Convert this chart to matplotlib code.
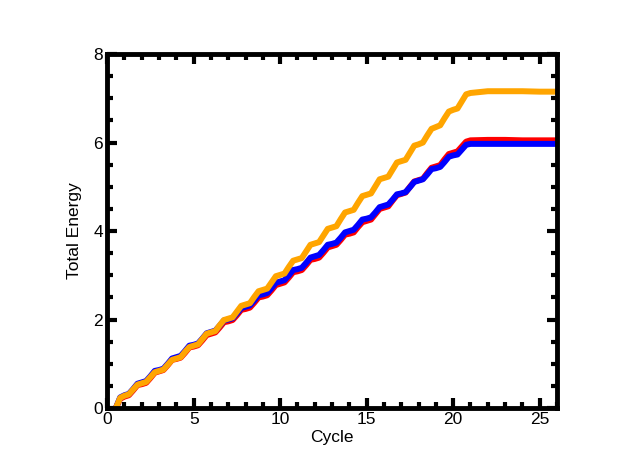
import numpy as np
import matplotlib.pyplot as plt
from matplotlib.ticker import MultipleLocator

plt.rcParams['font.family'] = ['Liberation Sans', 'DejaVu Sans']

# sampling grid in cycles, then the flat tail
cycle = np.r_[np.arange(0.5, 21.01, 0.25), [22, 23, 24, 25, 26]]

energy_red = [
    0.00, 0.21, 0.26,
    0.29, 0.40, 0.52, 0.54,
    0.57, 0.68, 0.80, 0.83,
    0.86, 0.97, 1.09, 1.11,
    1.14, 1.25, 1.37, 1.39,
    1.42, 1.53, 1.65, 1.68,
    1.71, 1.82, 1.94, 1.96,
    1.99, 2.10, 2.22, 2.24,
    2.27, 2.38, 2.50, 2.52,
    2.55, 2.66, 2.78, 2.81,
    2.84, 2.95, 3.07, 3.09,
    3.12, 3.23, 3.35, 3.37,
    3.40, 3.51, 3.63, 3.66,
    3.69, 3.80, 3.92, 3.94,
    3.97, 4.09, 4.20, 4.23,
    4.26, 4.38, 4.50, 4.53,
    4.56, 4.69, 4.81, 4.84,
    4.87, 5.00, 5.12, 5.15,
    5.18, 5.31, 5.43, 5.46,
    5.49, 5.62, 5.74, 5.77,
    5.80, 5.91, 6.02, 6.05,
    6.06, 6.06, 6.05, 6.05, 6.05,
]

energy_blue = [
    0.00, 0.24, 0.29,
    0.32, 0.43, 0.55, 0.58,
    0.61, 0.72, 0.84, 0.86,
    0.89, 1.00, 1.12, 1.15,
    1.18, 1.29, 1.41, 1.43,
    1.46, 1.57, 1.69, 1.72,
    1.75, 1.86, 1.98, 2.00,
    2.03, 2.14, 2.26, 2.29,
    2.32, 2.43, 2.55, 2.57,
    2.60, 2.71, 2.83, 2.86,
    2.89, 3.00, 3.12, 3.14,
    3.17, 3.28, 3.40, 3.43,
    3.46, 3.57, 3.69, 3.71,
    3.74, 3.85, 3.97, 4.00,
    4.03, 4.14, 4.26, 4.28,
    4.31, 4.42, 4.54, 4.57,
    4.60, 4.71, 4.83, 4.85,
    4.88, 4.99, 5.11, 5.14,
    5.17, 5.28, 5.40, 5.42,
    5.45, 5.56, 5.68, 5.71,
    5.73, 5.84, 5.95, 5.97,
    5.97, 5.97, 5.97, 5.97, 5.97,
]

energy_orange = [
    0.00, 0.23, 0.28,
    0.31, 0.42, 0.53, 0.56,
    0.59, 0.70, 0.81, 0.84,
    0.87, 0.98, 1.09, 1.12,
    1.15, 1.27, 1.38, 1.41,
    1.44, 1.56, 1.68, 1.71,
    1.74, 1.87, 1.99, 2.02,
    2.05, 2.18, 2.31, 2.34,
    2.37, 2.51, 2.64, 2.67,
    2.70, 2.84, 2.98, 3.01,
    3.04, 3.19, 3.33, 3.36,
    3.39, 3.54, 3.69, 3.72,
    3.75, 3.90, 4.05, 4.08,
    4.11, 4.27, 4.42, 4.45,
    4.48, 4.64, 4.79, 4.82,
    4.85, 5.01, 5.17, 5.20,
    5.23, 5.39, 5.55, 5.58,
    5.61, 5.77, 5.93, 5.96,
    6.00, 6.16, 6.31, 6.35,
    6.39, 6.55, 6.70, 6.74,
    6.77, 6.93, 7.09, 7.12,
    7.16, 7.16, 7.16, 7.15, 7.15,
]

fig = plt.figure(figsize=(6.38, 4.58), dpi=100)
ax = fig.add_axes([0.168, 0.109, 0.705, 0.773])

ax.plot(cycle, energy_red, color='#ff0000', lw=4.3, solid_joinstyle='round')
ax.plot(cycle, energy_blue, color='#0000ff', lw=4.3, solid_joinstyle='round')
ax.plot(cycle, energy_orange, color='#ffa500', lw=4.3, solid_joinstyle='round')

ax.set_xlim(0, 26)
ax.set_ylim(0, 8)
ax.xaxis.set_major_locator(MultipleLocator(5))
ax.xaxis.set_minor_locator(MultipleLocator(1))
ax.yaxis.set_major_locator(MultipleLocator(2))
ax.yaxis.set_minor_locator(MultipleLocator(0.5))
ax.tick_params(which='both', direction='in', top=True, right=True,
               width=3, labelsize=12.5, pad=3)
ax.tick_params(which='major', length=7)
ax.tick_params(which='minor', length=4)
for s in ax.spines.values():
    s.set_linewidth(3.5)

ax.set_xlabel('Cycle', fontsize=12.5, labelpad=2)
ax.set_ylabel('Total Energy', fontsize=12.5, labelpad=8)

fig.savefig('out.png', dpi=100)
